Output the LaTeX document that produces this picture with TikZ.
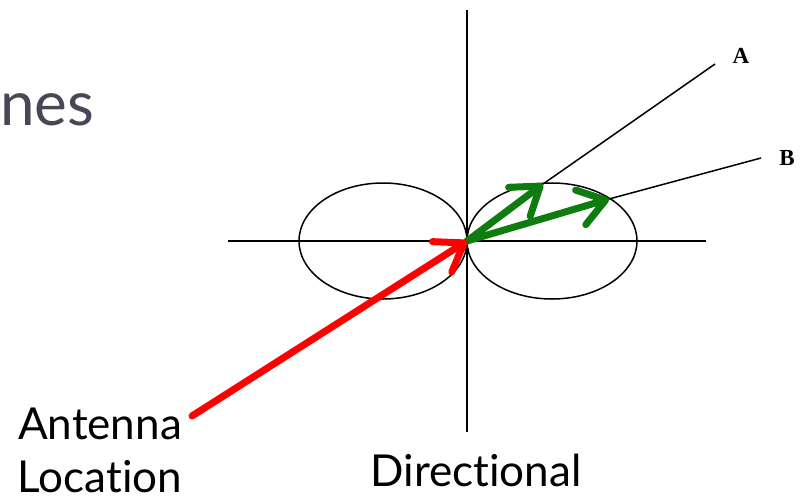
\documentclass[tikz,border=0pt]{standalone}
\usepackage{fontspec}
\setmainfont[Ligatures=NoCommon]{Lato}
\newfontfamily\tagfont{Liberation Serif}
\usepackage{xcolor}
\usepackage{tikz}
\usetikzlibrary{positioning,arrows.meta}

\definecolor{titlegray}{HTML}{474757}
\definecolor{vecgreen}{HTML}{0E7C0E}

\begin{document}
\begin{tikzpicture}[
  x=1pt, y=-1pt,
  axis/.style={draw, line width=1.5pt},
  lobe/.style={draw, line width=1.5pt},
  leader/.style={draw, line width=1.5pt},
  vec/.style={line width=7pt, line cap=round,
              -{Straight Barb[length=26pt 0, width=36pt 0, round]}},
  tag/.style={inner sep=0pt, font=\tagfont\bfseries\fontsize{23}{26}\selectfont},
  caption/.style={inner sep=0pt, align=center, font=\fontsize{44}{53}\selectfont}
]
\useasboundingbox (0,0) rectangle (805,501);
% slide title
\node[anchor=base west, inner sep=0pt, text=titlegray,
      font=\fontsize{62}{70}\selectfont] (title) at (0,125) {nes};
% axes
\coordinate (o) at (467,241);
\draw[axis] (228,241) -- (706,241);
\draw[axis] (467,10) -- (467,432);
% pattern lobes
\draw[lobe] (383,241) ellipse [x radius=84, y radius=58];
\draw[lobe] (552,241) ellipse [x radius=85, y radius=58];
% directions
\coordinate (pa) at (543,184);
\coordinate (pb) at (609,199);
\node[tag] (A) at (741,56) {A};
\node[tag] (B) at (787,158) {B};
\coordinate (ea) at (715,64);
\coordinate (eb) at (761,158);
\draw[leader] (pa) -- (ea);
\draw[leader] (pb) -- (eb);
\draw[vec, vecgreen] (o) -- (pa);
\draw[vec, vecgreen] (o) -- (pb);
% antenna
\node[caption] (ant) at (100,450) {Antenna\\Location};
\coordinate (feed) at (192,416);
\draw[vec, red] (feed) -- (o);
\node[caption] (dir) at (476,470) {Directional};
\end{tikzpicture}
\end{document}
